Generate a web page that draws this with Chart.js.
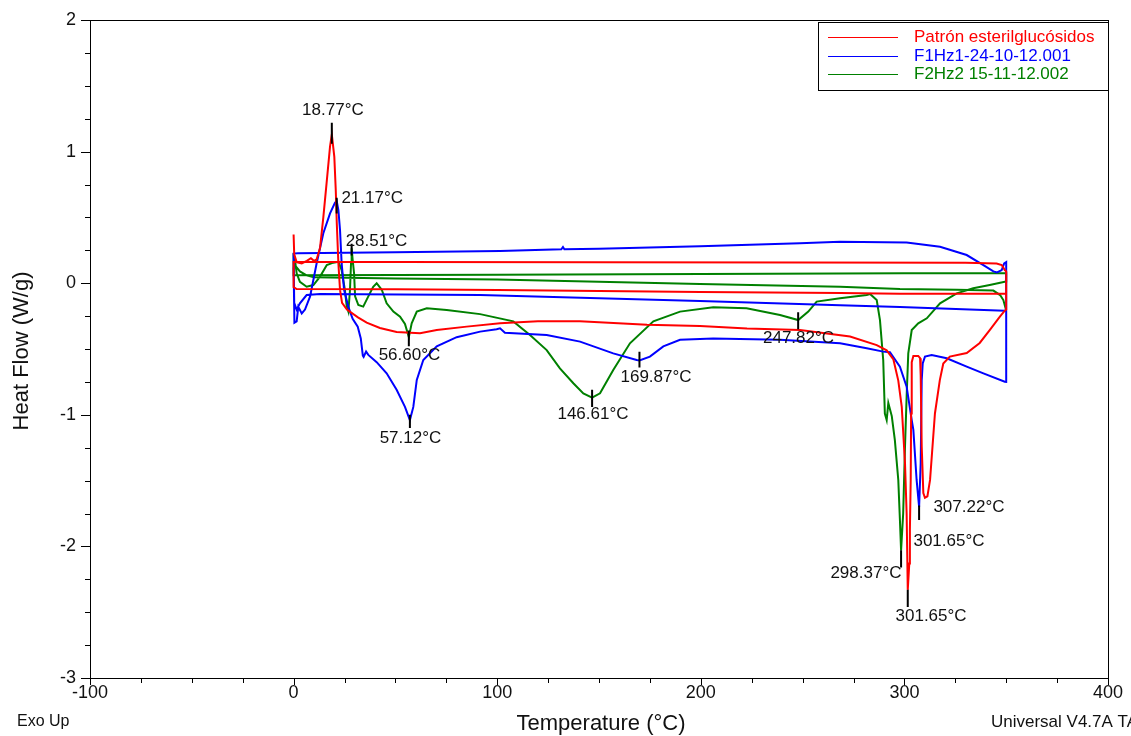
<!DOCTYPE html>
<html>
<head>
<meta charset="utf-8">
<title>DSC - Heat Flow</title>
<script src="https://cdn.jsdelivr.net/npm/chart.js@4.4.0/dist/chart.umd.min.js"></script>
<style>
  html, body { margin: 0; padding: 0; background: #fff; }
  #wrap { width: 1131px; height: 736px; }
</style>
</head>
<body>
<div id="wrap"><canvas id="dsc" width="1131" height="736"></canvas></div>
<script>
const FONT = '"Liberation Sans", Arial, sans-serif';

const seriesNames = ['Patrón esterilglucósidos', 'F1Hz1-24-10-12.001', 'F2Hz2 15-11-12.002'];
const seriesColors = ['#ff0000', '#0000ff', '#008000'];

const xTickLabels = [-100, 0, 100, 200, 300, 400];
const yTickLabels = [-3, -2, -1, 0, 1, 2];

// Patrón: heating ramp, cooling back from 350, second heating
const redTemp = [0, 0.3, 1.5, 4, 6.5, 8.5, 10, 11.3, 13.0, 14.6, 16.2, 17.9, 18.77, 20.0, 20.7, 21.2, 22.0, 22.8,
  23.8, 26.2, 31.6, 35.9, 42.4, 50.6, 62.1, 70.3, 85.0, 101.4, 120, 140.6, 173.6, 199.6, 222.7, 248.7, 273.3,
  286.4, 291.3, 294.6, 297.0, 298.7, 300.3, 301.1, 301.65, 302.4, 302.7, 303.1, 303.3, 303.6, 304.4, 306.8,
  307.7, 308.0, 308.5, 309.3, 310.1, 311.3, 312.6, 315.0, 317.4, 319.1, 322.3, 330.6, 337.0, 341.9, 346.9,
  349.3, 350, 350, 349.3, 347.8, 345.3, 330, 250, 150, 50, 0, 0, 1.5, 50, 100, 200, 268.4, 297.8, 349.3, 350];
const redFlow = [0.37, 0.22, 0.16, 0.15, 0.17, 0.19, 0.17, 0.18, 0.27, 0.50, 0.76, 1.04, 1.13, 0.96, 0.71, 0.46, 0.15, -0.05,
  -0.15, -0.20, -0.26, -0.30, -0.34, -0.37, -0.38, -0.355, -0.33, -0.305, -0.29, -0.29, -0.315, -0.325, -0.345, -0.356, -0.405,
  -0.47, -0.51, -0.58, -0.74, -0.94, -1.37, -1.75, -2.33, -2.13, -1.875, -1.495, -0.99, -0.60, -0.553, -0.553,
  -0.57, -0.70, -1.24, -1.594, -1.63, -1.62, -1.495, -0.99, -0.736, -0.61, -0.558, -0.53, -0.454, -0.356, -0.254,
  -0.209, -0.20, 0.09, 0.10, 0.138, 0.15, 0.155, 0.157, 0.16, 0.161, 0.162, -0.03, -0.044, -0.046, -0.051, -0.066, -0.074, -0.08, -0.08, -0.08];

const blueTemp = [0, 0.4, 1.5, 2.3, 4.0, 5.6, 8.1, 11.3, 14.6, 17.9, 20.3, 21.17, 22.0, 22.8, 23.6, 24.8, 26.9, 29.0,
  31.5, 33.0, 34.0, 34.4, 35.6, 36.7, 40.8, 45.7, 50.6, 54.7, 57.12, 58.8, 60.5, 63.7, 70.3, 80.1, 91.6, 99.7,
  101.4, 103.8, 124.3, 140.7, 157.0, 168.5, 169.87, 175.0, 181.6, 189.8, 206.1, 238.9, 268.4, 281.5, 289.6,
  292.9, 297.8, 301.1, 303.6, 304.4, 306.0, 307.22, 308.0, 308.5, 309.0, 310.1, 313.4, 320.8, 330.6, 338.8,
  349.3, 350, 350, 349.0, 347.8, 345.5, 343.7, 338.8, 330.6, 317.5, 301.1, 268.4, 248.7, 199.6, 150, 133, 132.3,
  131.5, 101.4, 50, 2, 0, 0.3, 1.5, 3.1, 6.4, 13.0, 91.6, 199.6, 268.4, 297.8, 349.3, 350];
const blueFlow = [0.12, -0.30, -0.29, -0.18, -0.23, -0.20, -0.10, 0.15, 0.38, 0.53, 0.61, 0.625, 0.556, 0.404, 0.15, -0.05, -0.18, -0.27,
  -0.33, -0.42, -0.55, -0.56, -0.52, -0.545, -0.60, -0.685, -0.81, -0.94, -1.04, -0.94, -0.735, -0.584, -0.48, -0.41, -0.368, -0.35,
  -0.343, -0.376, -0.394, -0.444, -0.533, -0.584, -0.587, -0.558, -0.48, -0.43, -0.42, -0.43, -0.457, -0.495, -0.52,
  -0.525, -0.634, -0.786, -1.04, -1.115, -1.495, -1.70, -1.37, -0.736, -0.61, -0.558, -0.545, -0.57, -0.634, -0.685,
  -0.749, -0.75, 0.16, 0.15, 0.10, 0.082, 0.09, 0.138, 0.214, 0.277, 0.31, 0.315, 0.303, 0.28, 0.262, 0.258, 0.275,
  0.258, 0.245, 0.235, 0.227, 0.225, -0.15, -0.2, -0.153, -0.09, -0.082, -0.09, -0.135, -0.168, -0.18, -0.209, -0.21];

const greenTemp = [0, 0.7, 1.5, 3.1, 6.4, 9.7, 13.0, 16.3, 19.5, 22.0, 23.6, 25.2, 26.1, 26.9, 27.7, 28.2, 28.51, 29.0,
  29.7, 30.2, 31.8, 34.2, 36.7, 39.1, 40.8, 43.3, 45.7, 49.0, 52.3, 54.7, 56.60, 58.0, 60.5, 65.4, 75.2, 91.6,
  107.9, 116.1, 124.3, 130.8, 137.4, 142.3, 146.61, 150.5, 157.0, 165.2, 176.7, 189.8, 206.1, 222.5, 238.9,
  247.82, 252.8, 256.9, 268.4, 281.5, 283.1, 286.4, 288.0, 289.6, 290.4, 291.3, 292.1, 293.8, 295.3, 297.0,
  297.8, 298.37, 299.4, 300.3, 301.1, 301.9, 303.6, 306.8, 311.0, 317.5, 325.7, 333.8, 341.9, 349.3, 350,
  350, 300, 200, 100, 0, 0, 1.0, 3.1, 6.4, 10, 50, 100, 199.6, 268.4, 297.8, 325.7, 343.7, 347.0, 348.6, 349.7, 350];
const greenFlow = [0.23, 0.176, 0.075, 0.011, -0.027, -0.014, 0.05, 0.138, 0.156, 0.163, 0.10, -0.05, -0.178, -0.216, -0.05, 0.15, 0.265, 0.18,
  0.075, -0.10, -0.166, -0.178, -0.10, -0.027, 0.0, -0.05, -0.153, -0.216, -0.254, -0.31, -0.41, -0.305, -0.216, -0.19, -0.204, -0.235,
  -0.29, -0.394, -0.508, -0.647, -0.76, -0.837, -0.87, -0.837, -0.66, -0.457, -0.29, -0.216, -0.183, -0.19, -0.242,
  -0.28, -0.216, -0.14, -0.115, -0.09, -0.082, -0.128, -0.28, -0.584, -0.99, -1.04, -0.91, -1.01, -1.19, -1.495,
  -1.80, -2.03, -1.75, -1.24, -0.86, -0.533, -0.356, -0.305, -0.267, -0.153, -0.077, -0.039, -0.014, 0.011, 0.012,
  0.075, 0.075, 0.07, 0.065, 0.06, 0.18, 0.13, 0.09, 0.06, 0.045, 0.035, 0.028, -0.006, -0.027, -0.044, -0.05, -0.056, -0.09, -0.128, -0.19, -0.19];

// peak temperatures printed next to the curves
const peakTemps = [18.77, 21.17, 28.51, 56.60, 57.12, 146.61, 169.87, 247.82, 307.22, 301.65, 298.37, 301.65];

// where each peak mark and its label sit, in axis units
const peakMarks = [[1.22, 1.06], [0.65, 0.53], [0.30, 0.21], [-0.36, -0.48], [-1.00, -1.10], [-0.81, -0.94],
  [-0.52, -0.64], [-0.22, -0.35], [-1.69, -1.80], null, [-2.03, -2.16], [-2.33, -2.46]];
const peakTextAt = [[19.3, 1.316], [38.6, 0.647], [40.7, 0.321], [56.9, -0.546], [57.4, -1.176], [147.05, -1.0],
  [178.0, -0.713], [248.0, -0.416], [331.7, -1.70], [321.9, -1.959], [281.1, -2.202], [313.1, -2.529]];

const toPoints = (temps, flows) => temps.map((t, i) => ({ x: t, y: flows[i] }));

const makeSet = (i, temps, flows) => ({
  label: seriesNames[i],
  data: toPoints(temps, flows),
  showLine: true,
  borderColor: seriesColors[i],
  backgroundColor: seriesColors[i],
  borderWidth: 2,
  pointRadius: 0,
  tension: 0,
  fill: false
});

const frame = {
  id: 'frame',
  afterDatasetsDraw(chart) {
    const { ctx, chartArea: area, scales: { x, y } } = chart;
    ctx.save();
    ctx.strokeStyle = '#000';
    ctx.lineWidth = 1;
    ctx.strokeRect(area.left + 0.5, area.top + 0.5, area.right - area.left, area.bottom - area.top);

    ctx.beginPath();
    for (let v = -100; v <= 400; v += 25) {
      const px = Math.round(x.getPixelForValue(v)) + 0.5;
      ctx.moveTo(px, area.bottom);
      ctx.lineTo(px, area.bottom + (v % 100 === 0 ? 7 : 5));
    }
    for (let v = -3; v <= 2; v += 0.25) {
      const py = Math.round(y.getPixelForValue(v)) + 0.5;
      ctx.moveTo(area.left, py);
      ctx.lineTo(area.left - (Number.isInteger(v) ? 9 : 5), py);
    }
    ctx.stroke();

    // peak marks and temperatures
    ctx.lineWidth = 2;
    ctx.beginPath();
    peakTemps.forEach((t, i) => {
      const m = peakMarks[i];
      if (!m) return;
      const px = x.getPixelForValue(t);
      ctx.moveTo(px, y.getPixelForValue(m[0]));
      ctx.lineTo(px, y.getPixelForValue(m[1]));
    });
    ctx.stroke();

    ctx.fillStyle = '#111';
    ctx.font = '17px ' + FONT;
    ctx.textAlign = 'center';
    ctx.textBaseline = 'middle';
    peakTemps.forEach((t, i) => {
      const at = peakTextAt[i];
      ctx.fillText(t.toFixed(2) + '°C', x.getPixelForValue(at[0]), y.getPixelForValue(at[1]));
    });

    // legend box
    const left = area.right - 290, top = area.top + 2;
    ctx.lineWidth = 1;
    ctx.strokeStyle = '#000';
    ctx.fillStyle = '#fff';
    ctx.fillRect(left, top, 290, 68);
    ctx.strokeRect(left + 0.5, top + 0.5, 290, 68);
    ctx.textAlign = 'left';
    chart.data.datasets.forEach((ds, i) => {
      const ly = Math.round(top + 15 + i * 18.5);
      ctx.strokeStyle = ds.borderColor;
      ctx.beginPath();
      ctx.moveTo(left + 10, ly + 0.5);
      ctx.lineTo(left + 80, ly + 0.5);
      ctx.stroke();
      ctx.fillStyle = ds.borderColor;
      ctx.fillText(ds.label, left + 96, ly);
    });
    ctx.restore();
  },
  afterDraw(chart) {
    const { ctx } = chart;
    ctx.save();
    ctx.fillStyle = '#111';
    ctx.textBaseline = 'middle';
    ctx.font = '22px ' + FONT;
    ctx.textAlign = 'center';
    ctx.fillText('Temperature (°C)', 601, 724);
    ctx.translate(22, 351);
    ctx.rotate(-Math.PI / 2);
    ctx.fillText('Heat Flow (W/g)', 0, 0);
    ctx.setTransform(1, 0, 0, 1, 0, 0);
    ctx.textAlign = 'left';
    ctx.font = '16px ' + FONT;
    ctx.fillText('Exo Up', 17, 722);
    ctx.font = '17px ' + FONT;
    ctx.fillText('Universal V4.7A TA', 991, 722);
    ctx.restore();
  }
};

new Chart(document.getElementById('dsc'), {
  type: 'scatter',
  data: {
    datasets: [
      makeSet(0, redTemp, redFlow),
      makeSet(1, blueTemp, blueFlow),
      makeSet(2, greenTemp, greenFlow)
    ]
  },
  options: {
    responsive: false,
    animation: false,
    devicePixelRatio: 1,
    layout: { padding: { top: 20, right: 23, left: 0, bottom: 0 } },
    plugins: { legend: { display: false }, tooltip: { enabled: false } },
    scales: {
      x: {
        type: 'linear',
        min: -100,
        max: 400,
        grid: { display: false, drawTicks: false },
        border: { display: false },
        afterFit: scale => {
          scale.height = 58;
          scale.paddingLeft = 0;
          scale.paddingRight = 0;
        },
        ticks: {
          stepSize: 25,
          autoSkip: false,
          maxRotation: 0,
          padding: 4,
          color: '#111',
          font: { family: FONT, size: 18 },
          callback: v => xTickLabels.includes(v) ? String(v) : ''
        }
      },
      y: {
        type: 'linear',
        min: -3,
        max: 2,
        grid: { display: false, drawTicks: false },
        border: { display: false },
        afterFit: scale => {
          scale.width = 90;
          scale.paddingTop = 0;
          scale.paddingBottom = 0;
        },
        ticks: {
          stepSize: 0.25,
          autoSkip: false,
          padding: 14,
          color: '#111',
          font: { family: FONT, size: 18 },
          callback: v => yTickLabels.includes(v) ? String(v) : ''
        }
      }
    }
  },
  plugins: [frame]
});
</script>
</body>
</html>
